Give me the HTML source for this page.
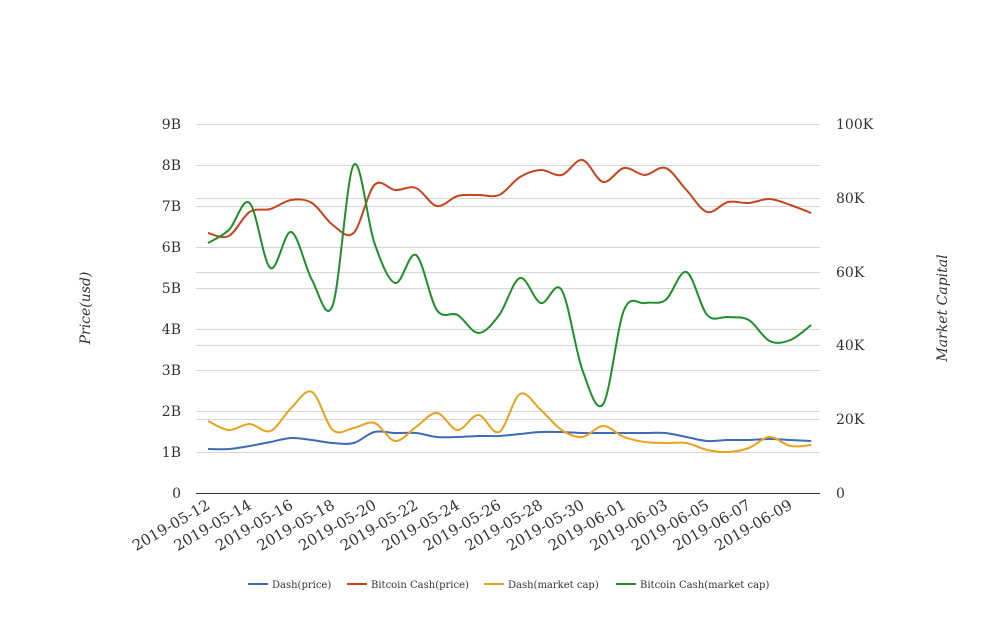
<!DOCTYPE html>
<html><head><meta charset="utf-8"><style>
body{margin:0;background:#fff;}
svg text{font-family:"DejaVu Serif","Liberation Serif",serif;fill:#333;}
</style></head><body>
<svg id="s" width="1008" height="616" xmlns="http://www.w3.org/2000/svg">
<g id="grid" stroke="#d6d6d6" stroke-width="1"></g>
<line x1="196" y1="493.5" x2="820" y2="493.5" stroke="#333" stroke-width="1"/>
<g id="lab" font-size="14"></g>
<g id="dlab" font-size="15"></g>
<text transform="translate(90,308) rotate(-90)" text-anchor="middle" font-size="14" font-style="italic">Price(usd)</text>
<text transform="translate(947,308) rotate(-90)" text-anchor="middle" font-size="14" font-style="italic">Market Capital</text>
<g id="lines" fill="none" stroke-width="2"></g>
<g font-size="10">
<line x1="248" y1="584" x2="268" y2="584" stroke="#3d6bb5" stroke-width="2"/><text x="272" y="588">Dash(price)</text>
<line x1="347" y1="584" x2="367" y2="584" stroke="#c9431c" stroke-width="2"/><text x="371" y="588">Bitcoin Cash(price)</text>
<line x1="484" y1="584" x2="504" y2="584" stroke="#e9a21a" stroke-width="2"/><text x="508" y="588">Dash(market cap)</text>
<line x1="616" y1="584" x2="636" y2="584" stroke="#1f8f2a" stroke-width="2"/><text x="640" y="588">Bitcoin Cash(market cap)</text>
</g>
</svg>
<script>
var NS="http://www.w3.org/2000/svg";
function el(p,t,a,txt){var e=document.createElementNS(NS,t);for(var k in a)e.setAttribute(k,a[k]);if(txt!=null)e.textContent=txt;p.appendChild(e);return e;}
var g=document.getElementById('grid'),lab=document.getElementById('lab'),dl=document.getElementById('dlab'),ln=document.getElementById('lines');
var L=['0','1B','2B','3B','4B','5B','6B','7B','8B','9B'];
for(var i=0;i<10;i++){var y=493-i*41;if(i>0)el(g,'line',{x1:196,x2:820,y1:y+.5,y2:y+.5});el(lab,'text',{x:181,y:y+5,'text-anchor':'end'},L[i]);}
var R=['0','20K','40K','60K','80K','100K'];
for(var i=0;i<6;i++){var y=Math.round(493-i*73.8);if(i>0)el(g,'line',{x1:196,x2:820,y1:y+.5,y2:y+.5});el(lab,'text',{x:836,y:y+5},R[i]);}
var d=new Date(Date.UTC(2019,4,12));
for(var i=0;i<15;i++){var dt=new Date(d.getTime()+i*2*864e5);var s=dt.toISOString().slice(0,10);var x=208+41.6*i;
el(dl,'text',{transform:'translate('+(x+3)+',508) rotate(-30)','text-anchor':'end'},s);}
var X=[];for(var i=0;i<30;i++)X.push(208+20.8*i);
var S=[
['#3d6bb5',[449,449,446,442,438,440,443,443,432,433,433,437,437,436,436,434,432,432,433,433,433,433,433,437,441,440,440,439,440,441]],
['#c9431c',[233,236,212,209,200,203,225,233,185,190,188,206,196,195,195,177,170,175,160,182,168,175,168,190,212,202,203,199,205,213]],
['#e9a21a',[421,430,424,431,408,392,430,428,423,441,427,413,430,415,432,394,410,430,437,426,437,442,443,443,450,452,448,437,446,445]],
['#1f8f2a',[243,230,203,268,232,280,305,165,243,283,255,310,315,333,315,278,303,290,370,404,310,303,300,272,315,317,320,341,340,325]]];
S.forEach(function(s){var Y=s[1],p='M'+X[0]+','+Y[0];
for(var i=0;i<29;i++){var x0=X[Math.max(i-1,0)],y0=Y[Math.max(i-1,0)],x3=X[Math.min(i+2,29)],y3=Y[Math.min(i+2,29)];
var c1x=X[i]+(X[i+1]-x0)/6,c1y=Y[i]+(Y[i+1]-y0)/6,c2x=X[i+1]-(x3-X[i])/6,c2y=Y[i+1]-(y3-Y[i])/6;
p+=' C'+c1x+','+c1y+' '+c2x+','+c2y+' '+X[i+1]+','+Y[i+1];}
el(ln,'path',{d:p,stroke:s[0]});});
</script>
</body></html>
